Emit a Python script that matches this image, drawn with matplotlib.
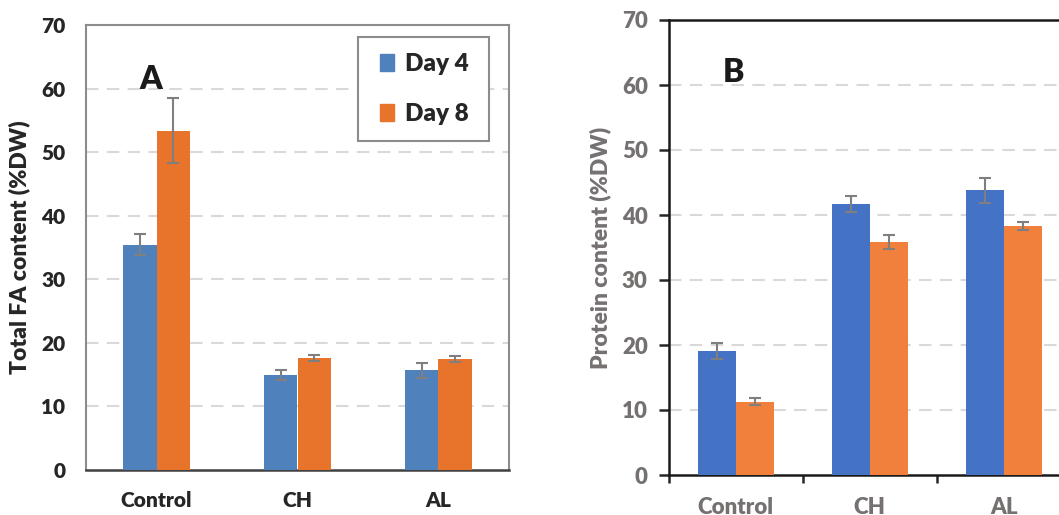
import matplotlib
matplotlib.use("Agg")
import matplotlib.pyplot as plt
import numpy as np
from matplotlib.patches import Patch, Rectangle

plt.rcParams['font.family'] = ['Lato', 'DejaVu Sans']
plt.rcParams['font.weight'] = 'bold'
plt.rcParams['axes.labelweight'] = 'bold'

categories = ["Control", "CH", "AL"]
series = ["Day 4", "Day 8"]

fa_day4 = [35.4, 14.9, 15.7]
fa_day4_err = [1.65, 0.8, 1.2]
fa_day8 = [53.4, 17.6, 17.5]
fa_day8_err = [5.1, 0.5, 0.5]

prot_day4 = [19.1, 41.7, 43.8]
prot_day4_err = [1.2, 1.3, 1.9]
prot_day8 = [11.3, 35.9, 38.3]
prot_day8_err = [0.5, 1.1, 0.6]

yticks = [0, 10, 20, 30, 40, 50, 60, 70]
ytick_labels = [str(v) for v in yticks]

W, H = 1059, 515
fig = plt.figure(figsize=(W / 100, H / 100), dpi=100)

x = np.arange(len(categories))
err_kw = dict(ecolor="#7f7f7f", elinewidth=1.5, capsize=4, capthick=1.5)
WT = 'heavy'

# ---------------- Panel A ----------------
axA = fig.add_axes([86 / W, 45 / H, 423 / W, 445 / H])
cA4, cA8 = "#4F81BD", "#E8732A"
bw = 0.24
axA.bar(x - bw / 2, fa_day4, bw, yerr=fa_day4_err, color=cA4, error_kw=err_kw, zorder=3)
axA.bar(x + bw / 2, fa_day8, bw, yerr=fa_day8_err, color=cA8, error_kw=err_kw, zorder=3)
axA.set_xlim(-0.5, 2.5)
axA.set_ylim(0, 70)
tkA = dict(fontsize=15, fontweight=WT, color="#262626")
axA.set_yticks(yticks)
axA.set_yticklabels(ytick_labels, **tkA)
axA.set_xticks(x)
axA.set_xticklabels(categories, **tkA)
axA.tick_params(axis='both', length=0)
axA.tick_params(axis='y', pad=15)
axA.tick_params(axis='x', pad=15)
for g in yticks[1:-1]:
    axA.axhline(g, color="#d9d9d9", lw=1.5, ls=(0, (6, 4)), zorder=1)
for s in ["left", "top", "right"]:
    axA.spines[s].set_color("#8c8c8c")
    axA.spines[s].set_linewidth(1.5)
axA.spines["bottom"].set_color("#404040")
axA.spines["bottom"].set_linewidth(1.8)
axA.set_ylabel("Total FA content (%DW)", fontsize=16.5, fontweight=WT,
               color="#262626", labelpad=8)
axA.text(-0.04, 61.5, "A", fontsize=23, fontweight=WT, color="#1a1a1a",
         ha="center", va="center")

# legend box (frame drawn separately for Excel-like padding)
axA.add_patch(Rectangle((0.643, 0.739), 0.31, 0.234, transform=axA.transAxes,
                        facecolor="white", edgecolor="#8c8c8c", lw=1.5, zorder=5))
handles = [Patch(color=cA4, label=series[0]), Patch(color=cA8, label=series[1])]
leg = axA.legend(handles=handles, loc="center", bbox_to_anchor=(0.80, 0.856),
                 prop={'size': 17.5, 'weight': WT}, frameon=False,
                 handlelength=0.6, handleheight=0.7, handletextpad=0.45,
                 labelspacing=1.15, borderpad=0.2, borderaxespad=0)
leg.set_zorder(6)
for t in leg.get_texts():
    t.set_color("#262626")

# ---------------- Panel B ----------------
axB = fig.add_axes([668.7 / W, 40 / H, 402 / W, 455 / H])
cB4, cB8 = "#4472C4", "#F0803C"
bw2 = 0.285
axB.bar(x - bw2 / 2, prot_day4, bw2, yerr=prot_day4_err, color=cB4, error_kw=err_kw, zorder=3)
axB.bar(x + bw2 / 2, prot_day8, bw2, yerr=prot_day8_err, color=cB8, error_kw=err_kw, zorder=3)
axB.set_xlim(-0.5, 2.5)
axB.set_ylim(0, 70)
tkB = dict(fontsize=16, fontweight=WT, color="#767171")
axB.set_yticks(yticks)
axB.set_yticklabels(ytick_labels, **tkB)
axB.set_xticks(x)
axB.set_xticklabels(categories, **tkB)
axB.set_xticks([-0.5, 0.5, 1.5, 2.5], minor=True)
axB.tick_params(axis='x', which='major', length=0, pad=16)
axB.tick_params(axis='x', which='minor', length=6, width=1.8, color="#262626", direction='out')
axB.tick_params(axis='y', length=7, width=1.8, color="#262626", direction='out', pad=8)
for g in yticks[1:-1]:
    axB.axhline(g, color="#d9d9d9", lw=1.5, ls=(0, (6, 4)), zorder=1)
for s in ["left", "top", "bottom"]:
    axB.spines[s].set_color("#1a1a1a")
    axB.spines[s].set_linewidth(1.8)
axB.spines["right"].set_visible(False)
axB.set_ylabel("Protein content (%DW)", fontsize=16.5, fontweight=WT,
               color="#767171", labelpad=8)
axB.text(-0.02, 62, "B", fontsize=23, fontweight=WT, color="#1a1a1a",
         ha="center", va="center")

fig.savefig("out.png", dpi=100)
